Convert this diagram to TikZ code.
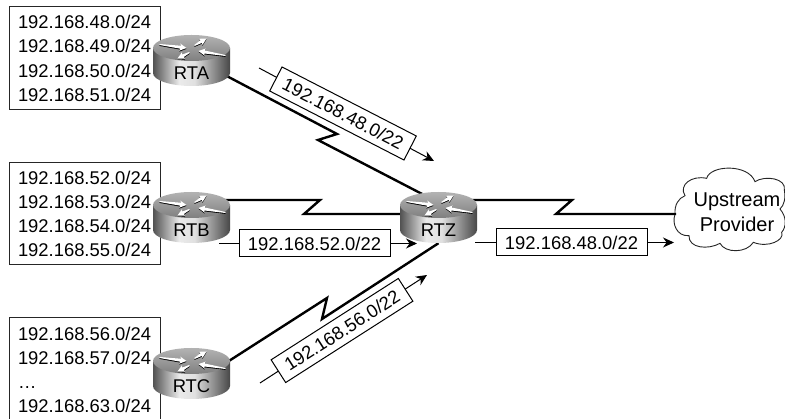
\documentclass[tikz,border=0pt]{standalone}
\usepackage{fontspec}
\setmainfont{Liberation Sans}
\usetikzlibrary{arrows.meta}
\pgfdeclarehorizontalshading{routerside}{100bp}{color(0bp)=(black!68); color(25bp)=(black!68); color(42bp)=(black!8); color(52bp)=(black!12); color(75bp)=(black!72); color(100bp)=(black!72)}
\pgfdeclareverticalshading{routertop}{100bp}{color(0bp)=(black!50); color(25bp)=(black!50); color(75bp)=(black!30); color(100bp)=(black!30)}
\tikzset{
  netbox/.style={draw=black!85,line width=1pt,fill=white,minimum width=151pt,text width=133pt,align=left,inner sep=0pt,font=\fontsize{18.4}{24.2}\selectfont},
  labelbox/.style={draw=black,line width=1pt,fill=white,minimum width=151pt,minimum height=27pt,inner sep=0pt,font=\fontsize{18.4}{22}\selectfont},
  routerbox/.style={minimum width=77pt,minimum height=51pt,inner sep=0pt},
  routername/.style={inner sep=0pt,font=\fontsize{18.4}{22}\selectfont},
  serial/.style={line width=2.4pt,line join=miter,miter limit=10},
  flow/.style={line width=1pt,-{Stealth[length=11pt,width=10pt]}},
  cloudline/.style={line width=.9pt,draw=black!85,fill=white}, 
  clouded/.style={inner sep=0pt,align=center,font=\fontsize{20}{25}\selectfont}
}
\newcommand{\routerarrowshape}{(0,-.5) -- (\arrowlen-6,-1.5) -- (\arrowlen-6.8,-3.6) -- (\arrowlen,0) -- (\arrowlen-6.8,3.6) -- (\arrowlen-6,1.5) -- (0,.5) -- cycle}
\newcommand{\routerart}[2]{%
  \begin{scope}[shift={(#1.center)}]
    \shade[shading=routerside] (-38.5,-12.5) -- (-38.5,12.5) arc[start angle=180,end angle=360,x radius=38.5pt,y radius=13pt] -- (38.5,-12.5) -- cycle;
    \shade[shading=routertop] (0,-12.5) ellipse[x radius=38.5pt,y radius=13pt];
    \foreach \ax/\ay/\bx/\by in {-32/-3/-5/0.5, 3/-2/15/-9, -2/5/-14/11, 34/8/7/3.5}{
      \pgfmathsetmacro{\arrowang}{atan2(\ay-\by,\bx-\ax)}
      \pgfmathsetmacro{\arrowlen}{veclen(\bx-\ax,\by-\ay)}
      \fill[black,shift={(\ax,\ay-12.1)},rotate=\arrowang] \routerarrowshape;
      \fill[white,shift={(\ax,\ay-13)},rotate=\arrowang] \routerarrowshape;
    }
  \end{scope}
  \node[routername] (#1name) at ([yshift=-13pt]#1.center) {#2};
}
\begin{document}
\begin{tikzpicture}[x=1pt,y=-1pt]
\useasboundingbox (0,0) rectangle (785,419);
% routers (placed first, drawn after the links)
\node[routerbox] (rta) at (191.5,60.5) {};
\node[routerbox] (rtb) at (191.5,217.5) {};
\node[routerbox] (rtc) at (191.5,373.5) {};
\node[routerbox] (rtz) at (438.5,217.5) {};
% network lists
\node[netbox,minimum height=103pt] (lista) at (84.5,58.5) {192.168.48.0/24\\192.168.49.0/24\\192.168.50.0/24\\192.168.51.0/24};
\node[netbox,minimum height=102pt] (listb) at (84.5,214) {192.168.52.0/24\\192.168.53.0/24\\192.168.54.0/24\\192.168.55.0/24};
\node[netbox,minimum height=104pt] (listc) at (84.5,370) {192.168.56.0/24\\192.168.57.0/24\\…\\192.168.63.0/24};
% zigzag points
\coordinate (za1) at (337,134);
\coordinate (za2) at (318,140);
\coordinate (zb1) at (320,200);
\coordinate (zb2) at (304,214);
\coordinate (zc1) at (327,298);
\coordinate (zc2) at (322,319);
\coordinate (zu1) at (572,200);
\coordinate (zu2) at (556,214);
\coordinate (cloudport) at (676,214);
% cloud
\begin{scope}[shift={(665,155)},x=.33333pt,y=-.33333pt]
\draw[cloudline] (30,178) .. controls (28,150) and (40,130) .. (60,122)
  .. controls (40,90) and (80,60) .. (125,70)
  .. controls (135,30) and (250,25) .. (270,80)
  .. controls (300,60) and (365,70) .. (358,105)
  .. controls (362,130) and (358,150) .. (345,162)
  .. controls (365,185) and (365,215) .. (350,232)
  .. controls (360,255) and (310,280) .. (265,262)
  .. controls (245,295) and (180,295) .. (165,265)
  .. controls (130,285) and (70,280) .. (72,242)
  .. controls (35,245) and (20,205) .. (30,178) -- cycle;
\end{scope}
\node[clouded] (upstream) at (737,212.5) {Upstream\\Provider};
% links
\draw[serial] ([yshift=3pt]rta.center) -- (za1) -- (za2) -- ([yshift=15pt]rtz.center);
\draw[serial] (rtb.center |- zb1) -- (zb1) -- (zb2) -- (rtz.center |- zb2);
\draw[serial] ([yshift=-11.5pt]rtc.center) -- (zc1) -- (zc2) -- (rtz.south);
\draw[serial] (rtz.center |- zu1) -- (zu1) -- (zu2) -- (cloudport);
% router artwork
\routerart{rta}{RTA}
\routerart{rtb}{RTB}
\routerart{rtc}{RTC}
\routerart{rtz}{RTZ}
% flows
\coordinate (fa1) at (259,68);
\coordinate (fa2) at (434,161);
\coordinate (fc1) at (260,383);
\coordinate (fc2) at (427,275);
\draw[flow] (fa1) -- (fa2);
\node[labelbox,rotate=-27.2] (la) at (343,113.5) {192.168.48.0/22};
\draw[flow] (fc1) -- (fc2);
\node[labelbox,rotate=32.6] (lc) at (342,330.5) {192.168.56.0/22};
\coordinate (fb1) at (219,243.5);
\coordinate (fb2) at (417,243.5);
\draw[flow] (fb1) -- (fb2);
\node[labelbox] (lb) at (314.5,243.5) {192.168.52.0/22};
\coordinate (fz1) at (475,242.5);
\coordinate (fz2) at (674,242.5);
\draw[flow] (fz1) -- (fz2);
\node[labelbox] (lz) at (571.5,242.5) {192.168.48.0/22};
\end{tikzpicture}
\end{document}
